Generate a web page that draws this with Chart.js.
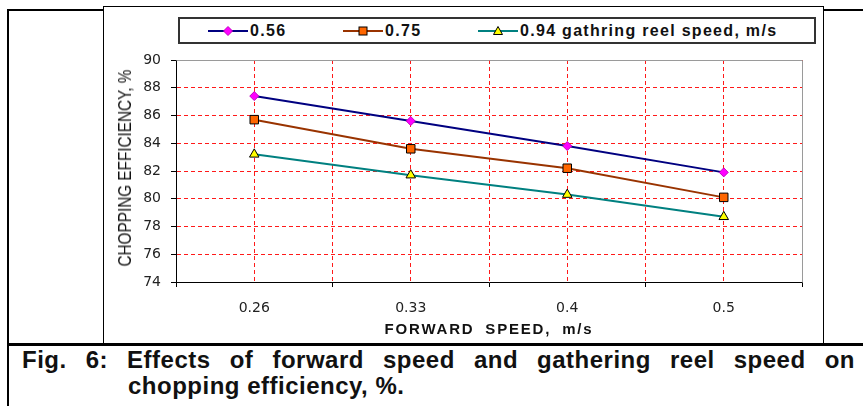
<!DOCTYPE html>
<html>
<head>
<meta charset="utf-8">
<script src="https://cdn.jsdelivr.net/npm/chart.js@4/dist/chart.umd.min.js"></script>
<style>
html,body{margin:0;padding:0;background:#fff}
#page{position:relative;width:863px;height:406px;overflow:hidden;font-family:"Liberation Sans",Arial,sans-serif;color:#111}
.ln{position:absolute;background:#000}
#box{position:absolute;left:103px;top:6px;width:719px;height:336px;border:1px solid #000;background:#fff}
#wrap{position:absolute;left:0;top:0;width:719px;height:336px}
#legend{position:absolute;left:74px;top:10px;width:638px;height:27px;box-sizing:border-box;border:2px solid #333;background:#fff}
.item{position:absolute;top:0;height:23px;display:flex;align-items:center;white-space:nowrap}
.item span{margin-left:2px;font-weight:bold;font-size:16px;letter-spacing:1.3px;line-height:23px}
#xtitle{position:absolute;left:385px;top:314px;transform:translateX(-50%);font-weight:bold;font-size:15px;letter-spacing:1.8px;word-spacing:5px;white-space:nowrap;line-height:16px}
#ytitle{position:absolute;left:21px;top:161px;transform:translate(-50%,-50%) rotate(-90deg) scaleX(0.85);font-size:18px;white-space:nowrap;line-height:18px}
.cap{position:absolute;font-weight:bold;font-size:24px;letter-spacing:0.5px;line-height:26px;white-space:nowrap}
#cap1{left:22px;top:347px;width:833px;text-align:justify;text-align-last:justify;white-space:normal}
#cap2{left:128px;top:373px}
</style>
</head>
<body>
<div id="page">
  <div class="ln" style="left:7px;top:9px;width:2px;height:397px"></div>
  <div class="ln" style="left:7px;top:9px;width:97px;height:2px"></div>
  <div class="ln" style="left:823px;top:9px;width:40px;height:2px"></div>
  <div id="box">
    <div id="wrap"><canvas id="chart"></canvas></div>
    <div id="legend"></div>
    <div id="ytitle">CHOPPING EFFICIENCY, %</div>
    <div id="xtitle">FORWARD SPEED, m/s</div>
  </div>
  <div class="ln" style="left:7px;top:343px;width:856px;height:3px"></div>
  <div class="cap" id="cap1">Fig. 6: Effects of forward speed and gathering reel speed on</div>
  <div class="cap" id="cap2">chopping efficiency, %.</div>
</div>
<script>
// ─── DATA ───────────────────────────────────────────────────────────
const FORWARD_SPEEDS=['0.26','0.33','0.4','0.5'];
const REEL_LABELS=['0.56','0.75','0.94 gathring reel speed, m/s'];
const EFF_056=[87.4,85.6,83.8,81.9];
const EFF_075=[85.7,83.6,82.2,80.1];
const EFF_094=[83.2,81.7,80.3,78.7];
const Y_MIN=74, Y_MAX=90, Y_STEP=2;

// ─── STYLE ──────────────────────────────────────────────────────────
const RED='#ff1a1a';
const DASH=[4,3];
const TICK_FONT={family:'"DejaVu Sans", sans-serif',size:14};
const SERIES=[
  {data:EFF_056,line:'#000080',fill:'#ff00ff',edge:'#c000c0',style:'rectRot',r:4.5},
  {data:EFF_075,line:'#993300',fill:'#ff6600',edge:'#000000',style:'rect',r:6},
  {data:EFF_094,line:'#008080',fill:'#ffff00',edge:'#000000',style:'triangle',r:5.5}
];

// gray top/right edge of the plot area
const plotFrame={
  id:'plotFrame',
  beforeDatasetsDraw(chart){
    const a=chart.chartArea, c=chart.ctx;
    const l=Math.round(a.left)+0.5, t=Math.round(a.top)+0.5, r=Math.round(a.right)+0.5, b=Math.round(a.bottom)+0.5;
    c.save();
    c.setLineDash([]);
    c.strokeStyle='#9a9a9a';c.lineWidth=1;
    c.beginPath();c.moveTo(l,t);c.lineTo(r,t);c.lineTo(r,b);c.stroke();
    c.restore();
  }
};

new Chart(document.getElementById('chart'),{
  type:'line',
  data:{
    labels:FORWARD_SPEEDS,
    datasets:SERIES.map((s,i)=>({
      label:REEL_LABELS[i],data:s.data,xAxisID:'x',
      borderColor:s.line,borderWidth:2,tension:0,fill:false,
      pointStyle:s.style,pointRadius:s.r,pointHoverRadius:s.r,
      pointBackgroundColor:s.fill,pointBorderColor:s.edge,pointBorderWidth:1
    }))
  },
  options:{
    responsive:true,maintainAspectRatio:false,animation:false,
    layout:{padding:{top:53,right:21,left:0,bottom:0}},
    plugins:{legend:{display:false},tooltip:{enabled:false}},
    scales:{
      x:{
        type:'category',offset:true,
        grid:{offset:true,color:c=>(c.index===0||c.index===FORWARD_SPEEDS.length)?'rgba(0,0,0,0)':RED,
              tickColor:'#000',tickLength:5,tickBorderDash:[]},
        border:{color:'#000',dash:DASH},
        ticks:{font:TICK_FONT,color:'#222',padding:13},
        afterFit:s=>{s.height=61;}
      },
      x2:{
        type:'category',offset:true,position:'bottom',
        grid:{offset:false,color:RED,drawTicks:false},
        border:{display:false,dash:DASH},
        ticks:{display:false},
        afterFit:s=>{s.height=0;}
      },
      y:{
        min:Y_MIN,max:Y_MAX,
        ticks:{stepSize:Y_STEP,font:TICK_FONT,color:'#222',padding:10},
        grid:{color:c=>(c.tick&&(c.tick.value===Y_MIN||c.tick.value===Y_MAX))?'rgba(0,0,0,0)':RED,
              tickColor:'#000',tickLength:5,tickBorderDash:[]},
        border:{color:'#000',dash:DASH},
        afterFit:s=>{s.width=72;}
      }
    }
  },
  plugins:[plotFrame]
});

// ─── LEGEND ─────────────────────────────────────────────────────────
function markerSvg(s){
  if(s.style==='rectRot') return '<polygon points="20,1.5 24.5,6 20,10.5 15.5,6" fill="'+s.fill+'" stroke="'+s.edge+'"/>';
  if(s.style==='rect') return '<rect x="16" y="2" width="8" height="8" fill="'+s.fill+'" stroke="'+s.edge+'"/>';
  return '<polygon points="20,1.5 24.5,9.5 15.5,9.5" fill="'+s.fill+'" stroke="'+s.edge+'"/>';
}
const legendEl=document.getElementById('legend');
const LEG_X=[28,163,298];
SERIES.forEach((s,i)=>{
  const item=document.createElement('div');
  item.className='item';
  item.style.left=LEG_X[i]+'px';
  item.innerHTML='<svg width="40" height="12" viewBox="0 0 40 12"><line x1="0" y1="6" x2="40" y2="6" stroke="'+s.line+'" stroke-width="2"/>'+markerSvg(s)+'</svg><span>'+REEL_LABELS[i]+'</span>';
  legendEl.appendChild(item);
});
</script>
</body>
</html>
